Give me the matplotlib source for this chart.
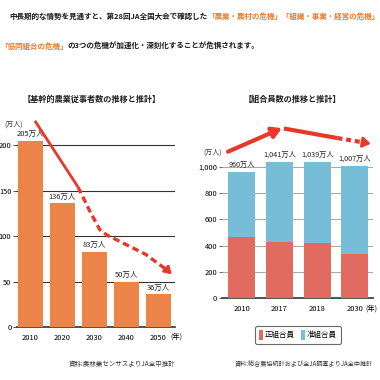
import matplotlib
matplotlib.use("Agg")
import matplotlib.pyplot as plt
from matplotlib.patches import Patch

# ---------------- data ----------------
left_years = ['2010', '2020', '2030', '2040', '2050']
farmers = [205, 136, 83, 50, 36]
farmer_labels = ['205万人', '136万人', '83万人', '50万人', '36万人']
left_yticks = [0, 50, 100, 150, 200]

right_years = ['2010', '2017', '2018', '2030']
regular = [469, 431, 423, 337]
associate = [491, 610, 616, 670]
member_labels = ['960万人', '1,041万人', '1,039万人', '1,007万人']
right_yticks = [0, 200, 400, 600, 800, 1000]
right_yticklabels = ['0', '200', '400', '600', '800', '1,000']

# trend arrows (data coordinates)
left_solid = [(0.14, 227), (1.49, 154)]
left_dashed = [(1.49, 154), (1.85, 128), (2.17, 107), (2.4, 101), (2.58, 98), (3.6, 80), (4.3, 62)]
left_tip = (4.42, 58)
right_up = [(-0.36, 1118), (1.07, 1298)]
right_down = [(1.12, 1295), (2.54, 1222)]
right_dash = [(2.54, 1222), (3.3, 1185)]

ORANGE = '#EC8447'
RED = '#E06B5E'
BLUE = '#77BDD7'
ARROW = '#E8372B'
HEAD = '#E87A2D'

CJK = ['Noto Sans CJK JP', 'DejaVu Sans']
NUM = ['Liberation Sans Narrow', 'Noto Sans CJK JP', 'DejaVu Sans']
plt.rcParams['font.family'] = CJK

W = H = 380
fig = plt.figure(figsize=(3.8, 3.8), dpi=100)
fig.patch.set_facecolor('white')

def fx(x):
    return x / W

def fy(y):
    return 1 - y / H

# ---------------- header ----------------
renderer = fig.canvas.get_renderer()

def rich_line(pieces, x0, y0, size):
    x = x0
    for txt, col in pieces:
        t = fig.text(fx(x), fy(y0), txt, color=col, fontsize=size, weight='bold',
                     va='center', ha='left', family=CJK)
        bb = t.get_window_extent(renderer=renderer)
        x += bb.width

rich_line([('中長期的な情勢を見通すと、第28回JA全国大会で確認した', '#1a1a1a'),
           ('「農業・農村の危機」「組織・事業・経営の危機」', HEAD)], 9, 16, 5.45)
rich_line([('「協同組合の危機」', HEAD),
           ('の3つの危機が加速化・深刻化することが危惧されます。', '#1a1a1a')], 0, 46, 5.45)

# ---------------- left chart ----------------
axL = fig.add_axes([fx(17), fy(327), fx(175 - 17), (327 - 109) / H])
xs = list(range(len(farmers)))
axL.bar(xs, farmers, width=0.78, color=ORANGE, zorder=3)
for x, v, lab in zip(xs, farmers, farmer_labels):
    axL.text(x, v + 3, lab, ha='center', va='bottom', fontsize=5.4, family=NUM,
             color='#222222', zorder=4)
axL.set_xlim(-0.42, 4.52)
axL.set_ylim(0, 240)
axL.set_yticks(left_yticks)
axL.set_yticklabels([str(v) for v in left_yticks], family=NUM, fontsize=5.4)
axL.yaxis.grid(True, color='#333333', linewidth=0.8, zorder=0)
axL.set_axisbelow(True)
axL.set_xticks(xs)
axL.set_xticklabels(left_years, family=NUM, fontsize=5.4)
for s in ['top', 'right', 'left']:
    axL.spines[s].set_visible(False)
axL.spines['bottom'].set_color('#333333')
axL.spines['bottom'].set_linewidth(1.2)
axL.tick_params(axis='y', length=3, width=0.6, pad=1, color='#333333')
axL.tick_params(axis='x', length=0, pad=5)
axL.text(4.36, -0.045, '(年)', transform=axL.get_xaxis_transform(), fontsize=5.2,
         ha='left', va='center', family=CJK)
fig.text(fx(4), fy(125), '(万人)', fontsize=5.0, ha='left', va='center', family=CJK,
         color='#333333')
# arrow
axL.plot([p[0] for p in left_solid], [p[1] for p in left_solid], color=ARROW,
         lw=2.0, solid_capstyle='butt', zorder=5, clip_on=False)
axL.plot([p[0] for p in left_dashed], [p[1] for p in left_dashed], color=ARROW,
         lw=2.4, dashes=(2.0, 1.2), zorder=5, clip_on=False)
axL.annotate('', xy=left_tip, xytext=left_dashed[-1],
             arrowprops=dict(arrowstyle='-|>,head_length=0.4,head_width=0.25',
                             color=ARROW, lw=2.0, shrinkA=0, shrinkB=0), zorder=5)
fig.text(fx(92), fy(99), '【基幹的農業従事者数の推移と推計】', ha='center', va='center',
         fontsize=5.9, weight='bold', family=CJK, color='#222222')
fig.text(fx(175), fy(364), '資料:農林業センサスよりJA全中推計', ha='right', va='center',
         fontsize=4.7, family=CJK, color='#333333')

# ---------------- right chart ----------------
axR = fig.add_axes([fx(222), fy(298), fx(373 - 222), (298 - 120) / H])
xr = list(range(len(regular)))
axR.bar(xr, regular, width=0.71, color=RED, zorder=3)
axR.bar(xr, associate, bottom=regular, width=0.71, color=BLUE, zorder=3)
for x, r, a, lab in zip(xr, regular, associate, member_labels):
    axR.text(x, r + a + 25, lab, ha='center', va='bottom', fontsize=5.2, family=NUM,
             color='#222222', zorder=4)
axR.set_xlim(-0.52, 3.48)
axR.set_ylim(0, 1360)
axR.set_yticks(right_yticks)
axR.set_yticklabels(right_yticklabels, family=NUM, fontsize=5.4)
axR.yaxis.grid(True, color='#aaaaaa', linewidth=0.8, zorder=0)
axR.set_axisbelow(True)
axR.set_xticks(xr)
axR.set_xticklabels(right_years, family=NUM, fontsize=5.4)
for s in ['top', 'right', 'left']:
    axR.spines[s].set_visible(False)
axR.spines['bottom'].set_color('#444444')
axR.spines['bottom'].set_linewidth(1.3)
axR.tick_params(axis='y', length=2.5, width=0.6, pad=1, color='#555555')
axR.tick_params(axis='x', length=0, pad=5)
axR.text(3.27, -0.062, '(年)', transform=axR.get_xaxis_transform(), fontsize=5.2,
         ha='left', va='center', family=CJK)
axR.text(-0.52, 1110, '(万人)', fontsize=5.0, ha='right', va='center', family=CJK,
         color='#333333')
# arrows
axR.annotate('', xy=right_up[1], xytext=right_up[0],
             arrowprops=dict(arrowstyle='-|>,head_length=0.55,head_width=0.32',
                             color=ARROW, lw=3.0, shrinkA=0, shrinkB=0),
             annotation_clip=False, zorder=5)
axR.plot([p[0] for p in right_down], [p[1] for p in right_down], color=ARROW,
         lw=3.0, solid_capstyle='butt', zorder=5, clip_on=False)
axR.plot([p[0] for p in right_dash], [p[1] for p in right_dash], color=ARROW,
         lw=3.0, dashes=(1.2, 0.9), zorder=5, clip_on=False)
axR.annotate('', xy=(3.42, 1179), xytext=right_dash[-1],
             arrowprops=dict(arrowstyle='-|>,head_length=0.45,head_width=0.3',
                             color=ARROW, lw=2.0, shrinkA=0, shrinkB=0),
             annotation_clip=False, zorder=5)
fig.text(fx(292), fy(99), '【組合員数の推移と推計】', ha='center', va='center',
         fontsize=5.9, weight='bold', family=CJK, color='#222222')

handles = [Patch(facecolor=RED, label='正組合員'), Patch(facecolor=BLUE, label='准組合員')]
leg = fig.legend(handles=handles, loc='center', bbox_to_anchor=(fx(298), fy(335)),
                 ncol=2, fontsize=5.4, frameon=True, fancybox=True, edgecolor='#444444',
                 handlelength=0.5, handleheight=1.6, handletextpad=0.3, columnspacing=0.8,
                 borderpad=0.5)
leg.get_frame().set_linewidth(0.8)
fig.text(fx(373), fy(364), '資料:総合農協統計および全JA調査よりJA全中推計', ha='right',
         va='center', fontsize=4.4, family=CJK, color='#333333')

fig.savefig('out.png', dpi=100, facecolor='white')
